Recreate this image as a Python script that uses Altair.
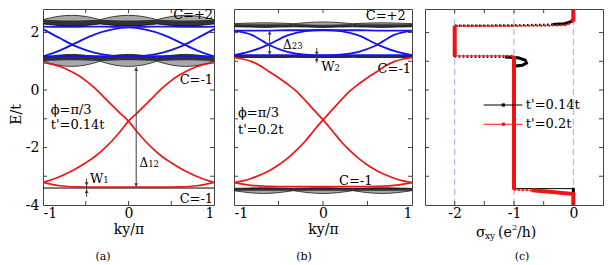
import altair as alt
import pandas as pd

FONT = "DejaVu Serif"
H = 196
WA, WB, WC = 171, 178, 178
E_DOMAIN = [-4, 2.82]
RED = "#f01414"
BLUE = "#1414ee"
GRAY = "#a8a8a8"
DARK = "#262626"
ARROW = "#404040"
FRAME = "#444444"
DASHBLUE = "#a4a4f4"

# ---------------- data ----------------
KY21 = [-1.0, -0.9, -0.8, -0.7, -0.6, -0.5, -0.4, -0.3, -0.2, -0.1, 0.0,
        0.1, 0.2, 0.3, 0.4, 0.5, 0.6, 0.7, 0.8, 0.9, 1.0]
KY11 = [-1.0, -0.8, -0.6, -0.4, -0.2, 0.0, 0.2, 0.4, 0.6, 0.8, 1.0]
KY13 = [-1.0, -0.8333, -0.6667, -0.5, -0.3333, -0.1667, 0.0,
        0.1667, 0.3333, 0.5, 0.6667, 0.8333, 1.0]

# red edge bands (descending branch; the rising one is its mirror)
RED_A_DOWN = [0.95, 0.90, 0.82, 0.69, 0.53, 0.33, 0.08, -0.21, -0.51, -0.80, -1.08,
              -1.45, -1.79, -2.08, -2.33, -2.53, -2.71, -2.87, -3.01, -3.12, -3.21]
RED_B_DOWN = [1.14, 1.08, 0.99, 0.84, 0.63, 0.43, 0.21, -0.04, -0.36, -0.70, -1.04,
              -1.40, -1.78, -2.10, -2.38, -2.61, -2.80, -2.95, -3.07, -3.16, -3.22]
RED_A_FLAT = [-3.21, -3.33, -3.37, -3.38, -3.38, -3.38, -3.38, -3.38, -3.37, -3.33, -3.21]
RED_B_FLAT = [-3.22, -3.32, -3.35, -3.36, -3.36, -3.36, -3.36, -3.36, -3.35, -3.32, -3.22]

# blue bands
BLUE_A_U = [2.12, 1.80, 1.50, 1.30, 1.20, 1.17, 1.20, 1.30, 1.50, 1.80, 2.12]
BLUE_A_CAP = [1.17, 1.38, 1.66, 1.93, 2.10, 2.18, 2.10, 1.93, 1.66, 1.38, 1.17]
BLUE_A_TOP = [2.21, 2.20, 2.20, 2.21, 2.20, 2.19, 2.20, 2.21, 2.20, 2.20, 2.21]
BLUE_A_BOT = [1.17, 1.18, 1.19, 1.18, 1.17, 1.17, 1.17, 1.18, 1.19, 1.18, 1.17]
BLUE_B_U = [2.07, 1.92, 1.56, 1.33, 1.23, 1.21, 1.23, 1.33, 1.56, 1.92, 2.07]
BLUE_B_CAP = [1.21, 1.36, 1.60, 1.90, 2.05, 2.09, 2.05, 1.90, 1.60, 1.36, 1.21]
BLUE_B_TOP = [2.07, 2.07, 2.07, 2.08, 2.08, 2.08, 2.08, 2.08, 2.07, 2.07, 2.07]
BLUE_B_BOT = [1.21, 1.21, 1.21, 1.21, 1.20, 1.20, 1.20, 1.21, 1.21, 1.21, 1.21]

# bulk (grey) bands: outer edges and dark core
LA_TOP_HI = [2.45, 2.56, 2.60, 2.56, 2.45, 2.56, 2.60, 2.56, 2.45, 2.56, 2.60, 2.56, 2.45]
LA_TOP_LO = [2.30, 2.25, 2.23, 2.25, 2.30, 2.25, 2.23, 2.25, 2.30, 2.25, 2.23, 2.25, 2.30]
LA_TOP_CORE = [2.45, 2.43, 2.42, 2.43, 2.45, 2.43, 2.42, 2.43, 2.45, 2.43, 2.42, 2.43, 2.45]
LA_MID_HI = [1.12, 1.21, 1.24, 1.21, 1.12, 1.21, 1.24, 1.21, 1.12, 1.21, 1.24, 1.21, 1.12]
LA_MID_LO = [1.00, 0.87, 0.82, 0.87, 1.00, 0.87, 0.82, 0.87, 1.00, 0.87, 0.82, 0.87, 1.00]
LA_MID_CORE = [1.01, 1.03, 1.04, 1.03, 1.01, 1.03, 1.04, 1.03, 1.01, 1.03, 1.04, 1.03, 1.01]
LA_BOT = -3.41

LB_TOP_HI = [2.31, 2.33, 2.34, 2.33, 2.31, 2.35, 2.37, 2.35, 2.31, 2.33, 2.34, 2.33, 2.31]
LB_TOP_LO = [2.20, 2.19, 2.18, 2.19, 2.20, 2.19, 2.18, 2.19, 2.20, 2.19, 2.18, 2.19, 2.20]
LB_TOP_CORE = [2.30, 2.29, 2.29, 2.29, 2.30, 2.28, 2.27, 2.28, 2.30, 2.29, 2.29, 2.29, 2.30]
LB_MID_HI = [1.19, 1.20, 1.20, 1.20, 1.19, 1.20, 1.20, 1.20, 1.19, 1.20, 1.20, 1.20, 1.19]
LB_MID_LO = [1.14, 1.13, 1.13, 1.13, 1.14, 1.13, 1.13, 1.13, 1.14, 1.13, 1.13, 1.13, 1.14]
LB_MID_CORE = [1.19, 1.19, 1.19, 1.19, 1.19, 1.19, 1.19, 1.19, 1.19, 1.19, 1.19, 1.19, 1.19]
LB_BOT_HI = [-3.42, -3.41, -3.40, -3.41, -3.42, -3.41, -3.40, -3.41, -3.42, -3.41, -3.40, -3.41, -3.42]
LB_BOT_LO = [-3.50, -3.57, -3.60, -3.57, -3.50, -3.57, -3.60, -3.57, -3.50, -3.57, -3.60, -3.57, -3.50]
LB_BOT_CORE = [-3.50, -3.50, -3.50, -3.50, -3.50, -3.50, -3.50, -3.50, -3.50, -3.50, -3.50, -3.50, -3.50]

# panel (c): Hall conductance paths (sigma, E)
C_RED_SOLID = [
    ("r1", [0.0, 0.0], [3.0, 2.38]),
    ("r2", [-2.0, -2.0], [2.23, 1.19]),
    ("r3", [-1.0, -1.0], [1.19, -3.47]),
    ("r4", [-0.7, -0.4, 0.0, 0.0], [-3.49, -3.54, -3.62, -4.0]),
]
C_RED_DOT = [
    ("d1", [0.0, -0.12, -0.5, -1.0, -1.5, -2.0], [2.38, 2.26, 2.24, 2.235, 2.23, 2.23]),
    ("d2", [-2.0, -1.5, -1.0], [1.19, 1.19, 1.19]),
    ("d3", [-1.0, -0.7], [-3.47, -3.49]),
]
C_BLACK_SOLID = [
    ("b1", [0.0, 0.0, -0.04, -0.15, -0.35], [3.0, 2.47, 2.38, 2.31, 2.28]),
    ("b2", [-2.0, -2.0], [2.24, 1.16]),
    ("b3", [-1.15, -0.93, -0.81, -0.79, -0.86, -1.0, -1.0], [1.15, 1.12, 1.04, 0.94, 0.86, 0.83, -3.43]),
    ("b4", [0.0, 0.0], [-3.40, -3.64]),
]
C_BLACK_THIN = [("t1", [-1.0, 0.0], [-3.43, -3.43])]
C_BLACK_DOT = [
    ("e1", [-0.35, -1.0, -2.0], [2.28, 2.25, 2.24]),
    ("e2", [-2.0, -1.15], [1.16, 1.15]),
]
C_PLATEAUS = [-2, -1, 0]
LEGEND = [("t'=0.14t", "black", -0.52), ("t'=0.2t", RED, -1.19)]

E_TICKS = [-3, -2, -1, 0, 1, 2]
KY_TICKS = [-0.5, 0, 0.5]
S_TICKS = [-2, -1.5, -1, -0.5, 0]


# ---------------- helpers ----------------
def lines_df(series):
    rows = []
    for seg, xs, ys in series:
        for i, (x, y) in enumerate(zip(xs, ys)):
            rows.append({"x": x, "y": y, "seg": seg, "i": i})
    return pd.DataFrame(rows)


def make_enc(domain, values, title, yaxis, ytitle):
    def X(field):
        return alt.X(field, scale=alt.Scale(domain=domain, nice=False, zero=False),
                     axis=alt.Axis(values=values, ticks=False, domain=False, grid=False,
                                   labelFontSize=14, labelPadding=1, labelExpr="'' + datum.value",
                                   titleFontSize=14, titlePadding=2), title=title)

    def Y(field):
        return alt.Y(field, scale=alt.Scale(domain=E_DOMAIN, nice=False, zero=False),
                     axis=yaxis, title=ytitle, stack=None)
    return X, Y


def ticks_layers(X, Y, W, xticks):
    ey = pd.DataFrame({"t": E_TICKS})
    kx = pd.DataFrame({"t": xticks})
    c = FRAME
    return [
        alt.Chart(ey).mark_rule(color=c, strokeWidth=1).encode(y=Y("t:Q"), x=alt.value(0), x2=alt.value(4)),
        alt.Chart(ey).mark_rule(color=c, strokeWidth=1).encode(y=Y("t:Q"), x=alt.value(W - 4), x2=alt.value(W)),
        alt.Chart(kx).mark_rule(color=c, strokeWidth=1).encode(x=X("t:Q"), y=alt.value(0), y2=alt.value(4)),
        alt.Chart(kx).mark_rule(color=c, strokeWidth=1).encode(x=X("t:Q"), y=alt.value(H - 4), y2=alt.value(H)),
    ]


def band_panel(W, yaxis, ytitle, red_down, red_flat, blues, lenses, bot_line, arrows, heads,
               txt_left, txt_right, caption, cap_x, core_side):
    # core_side: for each bulk band, which edge its dark core hugs ("lo" or "hi")
    X, Y = make_enc([-1, 1], [-1, 0, 1], "ky/π", yaxis, ytitle)
    rows = []
    for (name, hi, lo, core), side in zip(lenses, core_side):
        for k in range(3):
            for j in range(5):
                idx = 4 * k + j
                rows.append({"x": KY13[idx], "hi": hi[idx], "lo": lo[idx], "core": core[idx],
                             "edge": lo[idx] if side == "lo" else hi[idx],
                             "seg": f"{name}{k}", "i": j})
    ld = pd.DataFrame(rows)
    layers = [
        alt.Chart(ld).mark_area(color=GRAY, interpolate="monotone", clip=True).encode(
            x=X("x:Q"), y=Y("hi:Q"), y2="lo:Q", detail="seg:N"),
        alt.Chart(ld).mark_area(color=DARK, opacity=0.9, interpolate="monotone", clip=True).encode(
            x=X("x:Q"), y=Y("core:Q"), y2="edge:Q", detail="seg:N"),
    ]
    for f in ["hi", "lo"]:
        layers.append(alt.Chart(ld).mark_line(color="black", strokeWidth=0.7, interpolate="monotone", clip=True).encode(
            x=X("x:Q"), y=Y(f + ":Q"), detail="seg:N", order="i:Q"))
    if bot_line is not None:
        layers.append(alt.Chart(pd.DataFrame({"x": [-1.0], "x2": [1.0], "y": [bot_line]})).mark_rule(
            color="black", strokeWidth=1).encode(x=X("x:Q"), x2="x2:Q", y=Y("y:Q")))
    bd = lines_df([(n, KY11, v) for n, v in blues])
    layers.append(alt.Chart(bd).mark_line(color=BLUE, strokeWidth=1.8, interpolate="monotone", clip=True).encode(
        x=X("x:Q"), y=Y("y:Q"), detail="seg:N", order="i:Q"))
    rd = lines_df([("down", KY21, red_down), ("up", KY21, red_down[::-1]), ("flat", KY11, red_flat)])
    layers.append(alt.Chart(rd).mark_line(color=RED, strokeWidth=1.7, interpolate="monotone", clip=True).encode(
        x=X("x:Q"), y=Y("y:Q"), detail="seg:N", order="i:Q"))
    ad = pd.DataFrame(arrows, columns=["x", "y", "y2"])
    layers.append(alt.Chart(ad).mark_rule(color=ARROW, strokeWidth=1).encode(x=X("x:Q"), y=Y("y:Q"), y2="y2:Q"))
    hd = pd.DataFrame(heads, columns=["x", "y", "shape"])
    layers.append(alt.Chart(hd).mark_point(filled=True, size=16, color=ARROW, opacity=1).encode(
        x=X("x:Q"), y=Y("y:Q"), shape=alt.Shape("shape:N", scale=None)))
    tl = pd.DataFrame(txt_left, columns=["x", "y", "text", "size"])
    layers.append(alt.Chart(tl).mark_text(align="left", baseline="alphabetic", font=FONT, color="black").encode(
        x=X("x:Q"), y=Y("y:Q"), text="text:N", size=alt.Size("size:Q", scale=None)))
    tr = pd.DataFrame(txt_right, columns=["x", "y", "text", "size"])
    layers.append(alt.Chart(tr).mark_text(align="right", baseline="alphabetic", font=FONT, color="black").encode(
        x=X("x:Q"), y=Y("y:Q"), text="text:N", size=alt.Size("size:Q", scale=None)))
    layers += ticks_layers(X, Y, W, KY_TICKS)
    layers.append(alt.Chart(pd.DataFrame({"text": [caption]})).mark_text(
        font=FONT, fontSize=11, align="center", baseline="middle", color="black").encode(
        text="text:N", x=alt.value(cap_x), y=alt.value(H + 52)))
    return alt.layer(*layers).properties(width=W, height=H)


# ---------------- panel (a) ----------------
yaxis_a = alt.Axis(values=[-4, -2, 0, 2], ticks=False, domain=False, grid=False, labelFontSize=14,
                   labelPadding=4, labelExpr="'' + datum.value", titleFontSize=14, titlePadding=2,
                   titleY=105)
lenses_a = [("t", LA_TOP_HI, LA_TOP_LO, LA_TOP_CORE), ("m", LA_MID_HI, LA_MID_LO, LA_MID_CORE)]
arrows_a = [(0.09, 0.80, -3.38), (-0.49, -3.08, -3.72)]
heads_a = [(0.09, 0.72, "triangle-up"), (0.09, -3.30, "triangle-down"),
           (-0.49, -3.27, "triangle-down"), (-0.49, -3.52, "triangle-up")]
txt_left_a = [(-0.91, -0.83, "ϕ=π/3", 13), (-0.91, -1.35, "t'=0.14t", 13),
              (0.13, -2.67, "Δ", 12), (0.23, -2.67, "12", 8.5),
              (-0.45, -3.25, "W", 13), (-0.295, -3.25, "1", 8.5)]
txt_right_a = [(0.99, 2.47, "C=+2", 13), (0.99, 0.22, "C=-1", 13), (0.99, -3.92, "C=-1", 13)]

# ---------------- panel (b) ----------------
yaxis_b = alt.Axis(values=[0], labels=False, ticks=True, tickSize=7, tickColor="transparent",
                   domain=False, grid=False)
lenses_b = [("t", LB_TOP_HI, LB_TOP_LO, LB_TOP_CORE), ("m", LB_MID_HI, LB_MID_LO, LB_MID_CORE),
            ("b", LB_BOT_HI, LB_BOT_LO, LB_BOT_CORE)]
arrows_b = [(-0.60, 2.07, 1.21), (-0.07, 1.46, 0.94)]
heads_b = [(-0.60, 1.99, "triangle-up"), (-0.60, 1.29, "triangle-down"),
           (-0.07, 1.27, "triangle-down"), (-0.07, 1.08, "triangle-up")]
txt_left_b = [(-0.955, -0.93, "ϕ=π/3", 13), (-0.955, -1.52, "t'=0.2t", 13),
              (-0.45, 1.42, "Δ", 12), (-0.35, 1.42, "23", 8.5),
              (-0.02, 0.65, "W", 13), (0.13, 0.65, "2", 8.5),
              (0.18, -3.30, "C=-1", 13)]
txt_right_b = [(0.93, 2.43, "C=+2", 13), (0.99, 0.61, "C=-1", 13)]

panel_a = band_panel(WA, yaxis_a, "E/t", RED_A_DOWN, RED_A_FLAT,
                     [("u", BLUE_A_U), ("cap", BLUE_A_CAP), ("top", BLUE_A_TOP), ("bot", BLUE_A_BOT)],
                     lenses_a, LA_BOT, arrows_a, heads_a, txt_left_a, txt_right_a, "(a)", 60,
                     ["lo", "hi"])
panel_b = band_panel(WB, yaxis_b, None, RED_B_DOWN, RED_B_FLAT,
                     [("u", BLUE_B_U), ("cap", BLUE_B_CAP), ("top", BLUE_B_TOP), ("bot", BLUE_B_BOT)],
                     lenses_b, None, arrows_b, heads_b, txt_left_b, txt_right_b, "(b)", 70,
                     ["lo", "lo", "hi"])

# ---------------- panel (c) ----------------
Xc, Yc = make_enc([-2.5, 0.5], [-2, -1, 0], None, None, None)


def path_layer(series, color, width, dash=None):
    kw = dict(color=color, strokeWidth=width, clip=True, strokeCap="butt")
    if dash is not None:
        kw["strokeDash"] = dash
    return alt.Chart(lines_df(series)).mark_line(**kw).encode(
        x=Xc("x:Q"), y=Yc("y:Q"), detail="seg:N", order="i:Q")


c_layers = [
    alt.Chart(pd.DataFrame({"x": C_PLATEAUS})).mark_rule(color=DASHBLUE, strokeWidth=1, strokeDash=[6, 4]).encode(
        x=Xc("x:Q")),
    path_layer(C_BLACK_THIN, "black", 1),
    path_layer(C_BLACK_DOT, "black", 2.2, [1.6, 2.4]),
    path_layer(C_BLACK_SOLID, "black", 3),
    path_layer(C_RED_DOT, RED, 2.2, [1.6, 2.4]),
    path_layer(C_RED_DOT, RED, 0.8),
    path_layer(C_RED_SOLID, RED, 4),
]
leg = pd.DataFrame([{"x": -1.51, "x2": -0.86, "xm": -1.18, "xt": -0.80, "y": e, "text": t, "c": c}
                    for t, c, e in LEGEND])
c_layers += [
    alt.Chart(leg).mark_rule(strokeWidth=1.2).encode(x=Xc("x:Q"), x2="x2:Q", y=Yc("y:Q"),
                                                     color=alt.Color("c:N", scale=None)),
    alt.Chart(leg).mark_point(filled=True, size=10, shape="square", opacity=1).encode(
        x=Xc("xm:Q"), y=Yc("y:Q"), color=alt.Color("c:N", scale=None)),
    alt.Chart(leg).mark_text(align="left", baseline="middle", font=FONT, fontSize=13, color="black").encode(
        x=Xc("xt:Q"), y=Yc("y:Q"), text="text:N"),
]
c_layers += ticks_layers(Xc, Yc, WC, S_TICKS)
title_parts = [("σ", 51, H + 32, 14), ("xy", 60, H + 34, 9), ("(e", 73, H + 32, 14),
               ("2", 87, H + 25, 8), ("/h)", 92, H + 32, 14)]
for t, px, py, fs in title_parts:
    c_layers.append(alt.Chart(pd.DataFrame({"text": [t]})).mark_text(
        font=FONT, fontSize=fs, align="left", baseline="alphabetic", color="black").encode(
        text="text:N", x=alt.value(px), y=alt.value(py)))
c_layers.append(alt.Chart(pd.DataFrame({"text": ["(c)"]})).mark_text(
    font=FONT, fontSize=11, align="center", baseline="middle", color="black").encode(
    text="text:N", x=alt.value(97), y=alt.value(H + 52)))
panel_c = alt.layer(*c_layers).properties(width=WC, height=H)

chart = alt.hconcat(panel_a, panel_b, panel_c, spacing=11).resolve_scale(
    x="independent", y="independent").properties(padding=0).configure_view(
    stroke=FRAME, strokeWidth=1).configure_axis(
    labelFont=FONT, titleFont=FONT, labelColor="black", titleColor="black", titleFontWeight="normal")

chart.save("out.html", embed_options={"renderer": "svg", "actions": False})
